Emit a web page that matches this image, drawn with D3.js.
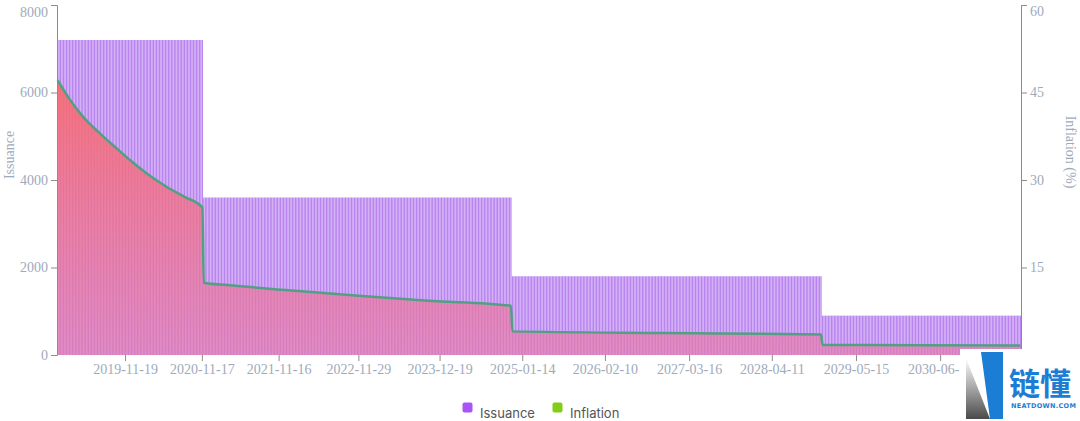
<!DOCTYPE html>
<html><head><meta charset="utf-8">
<script src="https://cdn.jsdelivr.net/npm/d3@7"></script>
<style>body{margin:0;background:#fff;} svg{display:block;}</style>
</head><body><svg id="chart" width="1080" height="421"></svg>
<script>
// ---- data ----
const startDate = "2019-01-01";
const endDate = "2031-07-01";
const issuanceLevels = [7200, 3600, 1800, 900];
const issuanceLastDates = ["2020-11-17", "2024-11-19", "2028-11-28"];
const inflationDates = ["2019-01-01","2019-02-26","2019-04-30","2019-07-23","2019-10-08","2019-12-17","2020-03-10","2020-06-02","2020-08-25","2020-11-17",
  "2020-11-24","2021-03-16","2022-02-01","2022-12-13","2023-10-24","2024-11-19",
  "2024-11-26","2026-11-24","2028-11-28",
  "2028-12-05","2030-03-19","2031-07-01"];
const inflationValues = [47.1,43.9,40.9,37.9,35.4,33.2,30.8,28.8,27.1,25.3,
  12.4,12.0,11.0,10.1,9.3,8.45,
  4.05,3.77,3.53,
  1.73,1.68,1.63];
const xTickLabels = ["2019-11-19","2020-11-17","2021-11-16","2022-11-29","2023-12-19","2025-01-14","2026-02-10","2027-03-16","2028-04-11","2029-05-15","2030-06-18"];
const leftTicks = [0,2000,4000,6000,8000];
const rightTicks = [0,15,30,45,60];
const seriesNames = ["Issuance","Inflation"];

// ---- derived ----
const parse = d3.utcParse("%Y-%m-%d"), fmt = d3.utcFormat("%Y-%m-%d");
const categories = d3.utcTuesday.range(parse(startDate), d3.utcDay.offset(parse(endDate), 1)).map(fmt);
const issuance = categories.map(d => issuanceLevels[issuanceLastDates.filter(e => e < d).length]);
const infl = inflationDates.map((d, i) => ({d, v: inflationValues[i]}));

const svg = d3.select("#chart");
const L = 57, R = 1021, T = 5, B = 355;
const x = d3.scaleBand().domain(categories).range([L, R]).paddingInner(0.15).paddingOuter(0);
const yL = d3.scaleLinear().domain([0, 8000]).range([B, T]);
const yR = d3.scaleLinear().domain([0, 60]).range([B, T]);
const cx = d => x(d) + x.bandwidth() / 2;

const defs = svg.append("defs");
const g1 = defs.append("linearGradient").attr("id","areaGrad").attr("gradientUnits","userSpaceOnUse")
  .attr("x1",0).attr("y1",78).attr("x2",0).attr("y2",B);
g1.append("stop").attr("offset","0%").attr("stop-color","rgb(250,104,104)").attr("stop-opacity",0.88);
g1.append("stop").attr("offset","100%").attr("stop-color","rgb(232,120,165)").attr("stop-opacity",0.62);
const g2 = defs.append("linearGradient").attr("id","logoGrad").attr("x1",0).attr("y1",0).attr("x2",0).attr("y2",1);
g2.append("stop").attr("offset","0%").attr("stop-color","#ffffff");
g2.append("stop").attr("offset","100%").attr("stop-color","#4a4a4a");

// bars
svg.append("g").selectAll("rect").data(categories).join("rect")
  .attr("x", d => x(d)).attr("width", x.bandwidth())
  .attr("y", (d, i) => yL(issuance[i])).attr("height", (d, i) => B - yL(issuance[i]))
  .attr("fill", "#ba84f0");

// area + line
const area = d3.area().x(p => cx(p.d)).y0(B).y1(p => yR(p.v)).curve(d3.curveMonotoneX);
const line = d3.line().x(p => cx(p.d)).y(p => yR(p.v)).curve(d3.curveMonotoneX);
svg.append("path").datum(infl).attr("d", area).attr("fill", "url(#areaGrad)");
svg.append("path").datum(infl).attr("d", line).attr("fill", "none")
  .attr("stroke", "#52a084").attr("stroke-width", 2.5).attr("stroke-linejoin","round");

// axes
const tickColor = "#9eaabb", axisColor = "#8c8c8c";
function styleAxis(g) {
  g.selectAll("path, line").attr("stroke", axisColor);
  g.selectAll("text").attr("fill", tickColor).attr("font-family", "'Liberation Serif', serif").attr("font-size", 14);
}
const ax = svg.append("g").attr("transform", `translate(0,${B})`)
  .call(d3.axisBottom(x).tickValues(xTickLabels).tickSize(6).tickSizeOuter(0));
ax.select(".domain").remove();
styleAxis(ax);

const al = svg.append("g").attr("transform", `translate(${L},0)`)
  .call(d3.axisLeft(yL).tickValues(leftTicks).tickFormat(d3.format("d")));
styleAxis(al);
al.selectAll(".tick").filter(d => d === 8000).select("text").attr("y", 7);

const ar = svg.append("g").attr("transform", `translate(${R},0)`)
  .call(d3.axisRight(yR).tickValues(rightTicks).tickFormat(d3.format("d")));
styleAxis(ar);
ar.selectAll(".tick").filter(d => d === 60).select("text").attr("y", 6);

svg.append("text").attr("transform", "translate(14,155) rotate(-90)").attr("text-anchor", "middle")
  .attr("fill", tickColor).attr("font-family", "'Liberation Serif', serif").attr("font-size", 14).text("Issuance");
svg.append("text").attr("transform", "translate(1066,152) rotate(90)").attr("text-anchor", "middle")
  .attr("fill", tickColor).attr("font-family", "'Liberation Serif', serif").attr("font-size", 14).text("Inflation (%)");

// legend
const legColors = ["#a855f7", "#84cc16"];
const legX = [462.5, 552.5];
seriesNames.forEach((n, i) => {
  svg.append("rect").attr("x", legX[i]).attr("y", 402.5).attr("width", 10).attr("height", 10).attr("rx", 2).attr("fill", legColors[i]);
  svg.append("text").attr("x", legX[i] + 17.5).attr("y", 418).attr("fill", "#555")
    .attr("font-family", "Inter, sans-serif").attr("font-size", 13).text(n);
});

// watermark
const wm = svg.append("g");
wm.append("rect").attr("x", 960).attr("y", 349).attr("width", 120).attr("height", 72).attr("fill", "#fff");
wm.append("polygon").attr("points", "966,358 966,419 990,419").attr("fill", "url(#logoGrad)");
wm.append("polygon").attr("points", "981,352 1003,352 1003,419 990,419").attr("fill", "#1b7dd3");
wm.append("text").attr("x", 1009).attr("y", 395).attr("font-family", "'Noto Sans CJK SC', sans-serif")
  .attr("font-weight", 700).attr("font-size", 31).attr("fill", "#1b7dd3").text("链懂");
wm.append("text").attr("x", 1011).attr("y", 408).attr("font-family", "'DejaVu Sans', sans-serif")
  .attr("font-weight", 700).attr("font-size", 6.5).attr("letter-spacing", 0.3).attr("fill", "#1b7dd3").text("NEATDOWN.COM");
</script></body></html>
